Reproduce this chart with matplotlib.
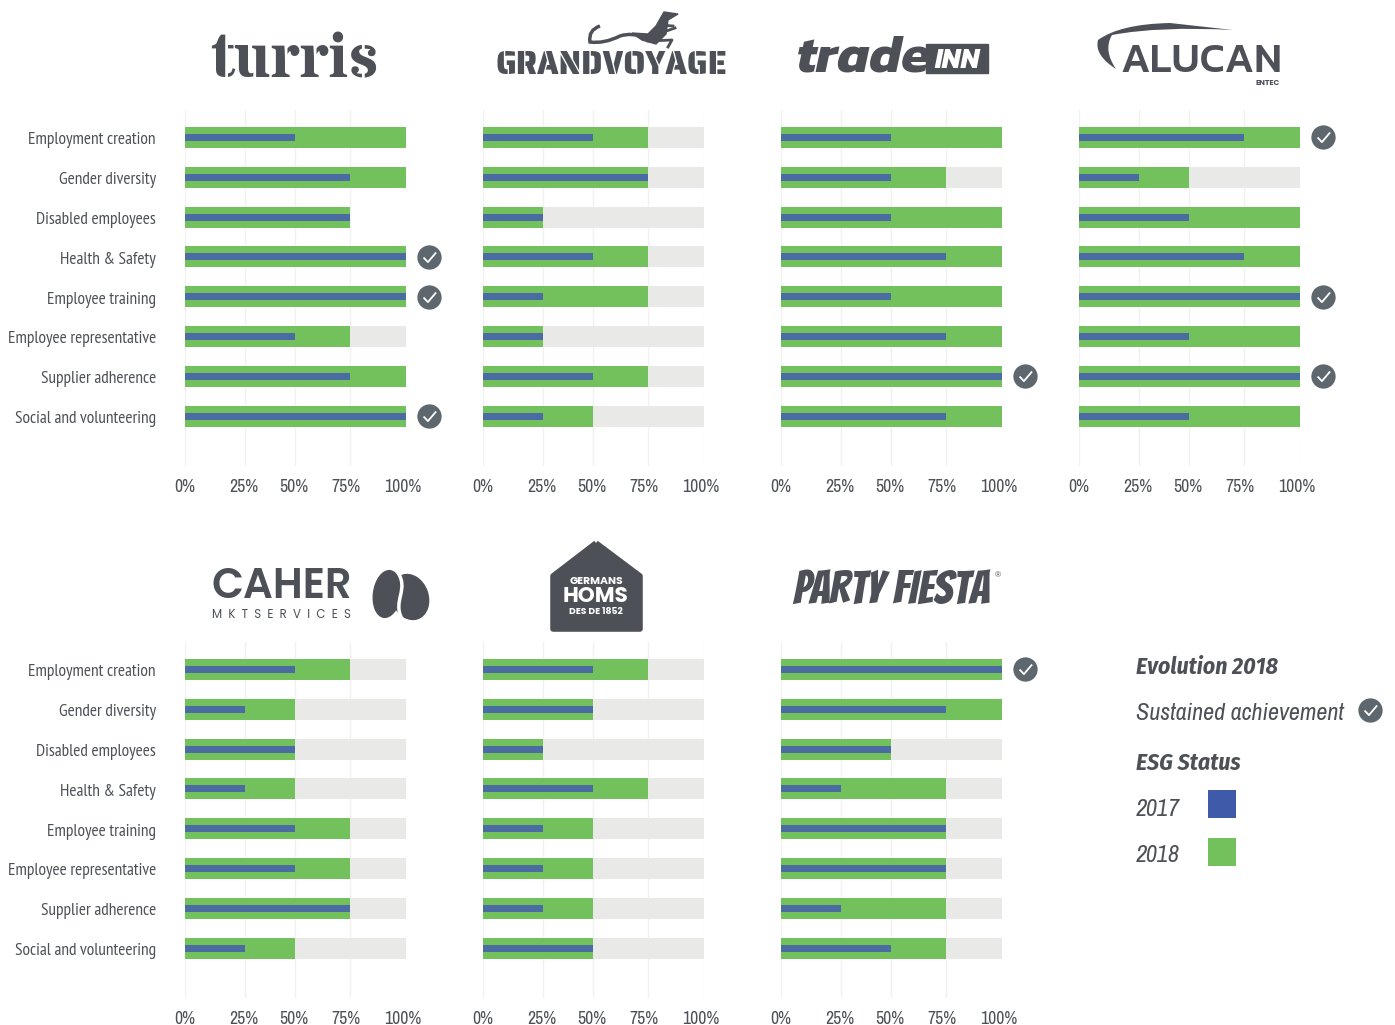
#ESG status per company, 2017 vs 2018
import numpy as np
import matplotlib
matplotlib.use("Agg")
import matplotlib.pyplot as plt
from matplotlib.patches import PathPatch, Rectangle, Ellipse, Polygon
from matplotlib.path import Path
from matplotlib.transforms import ScaledTranslation

plt.rcParams["font.family"] = ["Archivo Narrow", "Liberation Sans", "DejaVu Sans"]

W, H = 1395, 1025
GREEN = "#72C15C"
BLUE = "#4A6CA3"
LEG_BLUE = "#3F5AA9"
GREY = "#E9EAE8"
GRID = "#F1F1F1"
TEXT = "#4D5157"
BADGE = "#5F676E"

categories = ["Employment creation", "Gender diversity", "Disabled employees", "Health & Safety",
              "Employee training", "Employee representative", "Supplier adherence", "Social and volunteering"]
tick_vals = [0, 25, 50, 75, 100]
tick_labels = ["0%", "25%", "50%", "75%", "100%"]

turris_2018 = [100, 100, 75, 100, 100, 75, 100, 100]
turris_2017 = [50, 75, 75, 100, 100, 50, 75, 100]
turris_checks = [3, 4, 7]
grand_2018 = [75, 75, 25, 75, 75, 25, 75, 50]
grand_2017 = [50, 75, 25, 50, 25, 25, 50, 25]
grand_checks = []
trade_2018 = [100, 75, 100, 100, 100, 100, 100, 100]
trade_2017 = [50, 50, 50, 75, 50, 75, 100, 75]
trade_checks = [6]
alucan_2018 = [100, 50, 100, 100, 100, 100, 100, 100]
alucan_2017 = [75, 25, 50, 75, 100, 50, 100, 50]
alucan_checks = [0, 4, 6]
caher_2018 = [75, 50, 50, 50, 75, 75, 75, 50]
caher_2017 = [50, 25, 50, 25, 50, 50, 75, 25]
caher_checks = []
homs_2018 = [75, 50, 25, 75, 50, 50, 50, 50]
homs_2017 = [50, 50, 25, 50, 25, 25, 25, 50]
homs_checks = []
party_2018 = [100, 100, 50, 75, 75, 75, 75, 75]
party_2017 = [100, 75, 50, 25, 75, 75, 25, 50]
party_checks = [0]

#the axis in the original is not quite linear, 25% sits a bit to the right
scale_in = [0, 25, 50, 75, 100, 120]
scale_out = [0, 27, 49.8, 74.7, 100, 120]
forward = lambda v: np.interp(v, scale_in, scale_out)
inverse = lambda v: np.interp(v, scale_out, scale_in)

CHECK = Path([(-0.45, 0.0), (-0.12, -0.35), (0.5, 0.38)], [Path.MOVETO, Path.LINETO, Path.LINETO])

fig = plt.figure(figsize=(W / 100, H / 100), dpi=100, facecolor="white")
bg = fig.add_axes([0, 0, 1, 1], zorder=0)
bg.set_xlim(0, W)
bg.set_ylim(H, 0)
bg.axis("off")


def badge(ax, x, y):
    ax.plot(x, y, "o", ms=17.5, color=BADGE, mec="none", clip_on=False, zorder=5)
    ax.plot(x, y, marker=CHECK, ms=9.5, mfc="none", mec="white", mew=1.3, clip_on=False, zorder=6)


def panel(left, top, vals18, vals17, checks, missing=(), show_labels=False):
    ax = fig.add_axes([left / W, 1 - (top + 356) / H, 221 / W, 356 / H], zorder=2)
    ax.patch.set_alpha(0)
    ax.set_xscale("function", functions=(forward, inverse))
    ax.set_xlim(0, 100)
    ax.set_ylim(8.255, -0.69)
    pos = np.arange(len(categories))
    full = [0 if i in missing else 100 for i in pos]
    ax.barh(pos, full, height=0.527, color=GREY, zorder=2)
    ax.barh(pos, vals18, height=0.527, color=GREEN, zorder=3)
    ax.barh(pos, vals17, height=0.176, color=BLUE, zorder=4)
    for c in checks:
        badge(ax, 110.5, c)
    ax.set_xticks(tick_vals, tick_labels)
    ax.grid(axis="x", color=GRID, lw=1, zorder=1)
    ax.tick_params(axis="x", length=0, pad=9.5, labelsize=12.8, labelcolor=TEXT)
    ax.set_yticks(pos, categories if show_labels else [""] * 8)
    ax.tick_params(axis="y", length=0, pad=21, labelsize=12.5, labelcolor=TEXT)
    for s in ax.spines.values():
        s.set_visible(False)
    shifts = [0, -1, -1, -4, -3]
    for lab, dx in zip(ax.get_xticklabels(), shifts):
        lab.set_transform(lab.get_transform() + ScaledTranslation(dx / 100, 0, fig.dpi_scale_trans))
    for lab in ax.get_yticklabels():
        lab.set_family(["PT Sans Narrow", "Liberation Sans"])
        lab.set_transform(lab.get_transform() + ScaledTranslation(0, -1 / 100, fig.dpi_scale_trans))
    return ax


panel(185, 110, turris_2018, turris_2017, turris_checks, missing=[2], show_labels=True)
panel(483, 110, grand_2018, grand_2017, grand_checks)
panel(781, 110, trade_2018, trade_2017, trade_checks)
panel(1079, 110, alucan_2018, alucan_2017, alucan_checks)
panel(185, 642, caher_2018, caher_2017, caher_checks, show_labels=True)
panel(483, 642, homs_2018, homs_2017, homs_checks)
panel(781, 642, party_2018, party_2017, party_checks)

#logos, drawn as text and simple shapes
LOGO = "#4D5157"


def logo(x, y, s, fam, size, color=LOGO, ha="center", **kw):
    bg.text(x, y, s, family=[fam, "Liberation Sans"], size=size, color=color, ha=ha, va="baseline", **kw)


logo(294, 77, "turris", "Stardos Stencil", 45.5, weight="bold")
logo(612, 74, "GRANDVOYAGE", "Saira Stencil One", 22.7)
tail = Path([(600, 26), (588, 30), (590, 42), (604, 44), (620, 36), (632, 32), (645, 38)],
            [Path.MOVETO] + [Path.CURVE3] * 6)
bg.add_patch(PathPatch(tail, fc="none", ec=LOGO, lw=2.5))
bg.add_patch(Polygon([(632, 33), (648, 34), (656, 26), (664, 12), (678, 14), (668, 20), (666, 34), (656, 44), (642, 40)], color=LOGO))
bg.plot([655, 675], [35, 28], color=LOGO, lw=2)
bg.plot([660, 673], [25, 26], color=LOGO, lw=2)
bg.plot([648, 672, 668], [41, 40, 47], color=LOGO, lw=2)
logo(797, 71, "trade", "Kanit", 38, ha="left", weight="bold", style="italic")
bg.add_patch(Rectangle((926, 44), 62, 29, color=LOGO))
logo(957, 68, "INN", "Kanit", 20, color="white", weight="bold", style="italic")
swoosh = Path([(1233, 30), (1160, 26), (1112, 35), (1103, 50), (1116, 69), (1094, 55), (1098, 40), (1120, 24), (1170, 23), (1233, 30)],
              [Path.MOVETO] + [Path.CURVE3] * 8 + [Path.LINETO])
bg.add_patch(PathPatch(swoosh, fc=LOGO, ec="none"))
logo(1201, 72, "ALUCAN", "Kanit", 30, weight=500)
logo(1268, 85, "ENTEC", "Poppins", 5.5, weight="bold")

logo(282, 598, "CAHER", "Poppins", 30, weight="semibold")
logo(281, 618, "M  K  T  S  E  R  V  I  C  E  S", "Poppins", 8.5)
bg.add_patch(Ellipse((387, 594), 27, 47, angle=8, color=LOGO))
bg.add_patch(Ellipse((410, 597), 36, 46, angle=-20, color=LOGO))
bg.add_patch(PathPatch(Path([(397, 571), (410, 590), (392, 600), (402, 619)], [Path.MOVETO, Path.CURVE4, Path.CURVE4, Path.CURVE4]),
                       fc="none", ec="white", lw=2.5, zorder=3))

house = Path([(596, 543), (640, 576), (640, 629), (553, 629), (553, 576), (596, 543)])
bg.add_patch(PathPatch(house, fc=LOGO, ec=LOGO, lw=4, joinstyle="round"))
logo(596, 584, "GERMANS", "Poppins", 7.8, color="white", weight="bold")
logo(596, 602, "HOMS", "Poppins", 15.5, color="white", weight="bold")
logo(596, 614, "DES DE 1852", "Poppins", 6.6, color="white", weight="bold")

logo(891, 604, "PARTY FIESTA", "Bangers", 33)
logo(998, 577, "®", "Liberation Sans", 6)


#legend
def leg_text(x, y, s, bold=False):
    if bold:
        bg.text(x, y, s, size=17, style="italic", weight="bold", color=TEXT, ha="left", va="center",
                family=["Fira Sans Condensed", "Liberation Sans"])
    else:
        bg.text(x, y, s, size=17.4, style="italic", color=TEXT, ha="left", va="center")


leg_text(1136, 667, "Evolution 2018", True)
leg_text(1136, 713, "Sustained achievement")
bg.plot(1370, 710, "o", ms=17.5, color=BADGE, mec="none", clip_on=False)
bg.plot(1370, 710, marker=CHECK, ms=9.5, mfc="none", mec="white", mew=1.3, clip_on=False)
leg_text(1136, 763, "ESG Status", True)
leg_text(1136, 810, "2017")
leg_text(1136, 855, "2018")
bg.add_patch(Rectangle((1208, 790), 28, 28, color=LEG_BLUE, lw=0))
bg.add_patch(Rectangle((1208, 838), 28, 28, color=GREEN, lw=0))

fig.savefig("out.png", dpi=100)
